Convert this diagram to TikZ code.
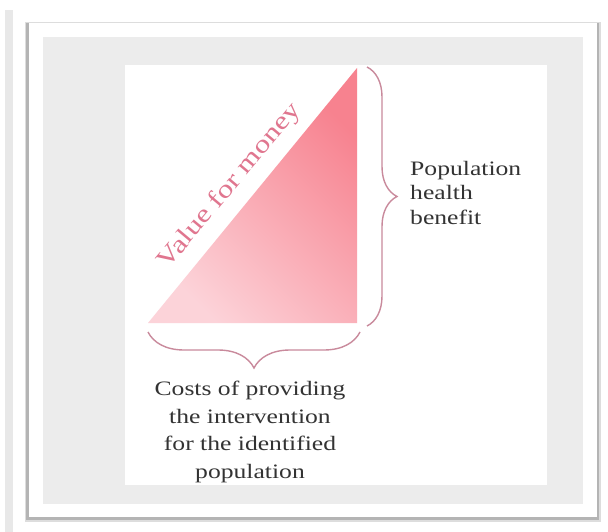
\documentclass[tikz,border=0pt]{standalone}
\usepackage{fontspec}
\setmainfont{Liberation Serif}[FakeStretch=1.25]
\usetikzlibrary{decorations.pathreplacing}
\definecolor{gline}{HTML}{E8E8E8}
\definecolor{shadowc}{HTML}{B4B4B4}
\definecolor{framec}{HTML}{DDDDDD}
\definecolor{panel}{HTML}{ECECEC}
\definecolor{pinkL}{HTML}{FCD3D9}
\definecolor{pinkD}{HTML}{F7828F}
\definecolor{pinktext}{HTML}{E0768F}
\definecolor{bracec}{HTML}{C98A9C}
\definecolor{txt}{HTML}{333333}
\tikzset{
  bracestyle/.style={draw=bracec, line width=1.4pt, decorate, decoration={brace, amplitude=#1}},
  lbl/.style={text=txt, inner sep=0pt, font=\fontsize{20.5}{24.5}\selectfont},
}
\begin{document}
\begin{tikzpicture}[x=1pt,y=-1pt]
\useasboundingbox (0,0) rectangle (608,532);
\fill[white] (0,0) rectangle (608,532);
\fill[gline] (5,10) rectangle (13,532);
% frame with shadow
\fill[shadowc!45] (25,22) rectangle (601,522);
\fill[shadowc] (26,23) rectangle (599,520);
\fill[white] (29,22) rectangle (597,517);
\draw[framec, line width=0.6pt] (29,22) -- (597,22);
\fill[panel] (43,37) rectangle (583,504);
\fill[white] (125,65) rectangle (547,485);
% triangle
\coordinate (A) at (148,323);
\coordinate (B) at (357,323);
\coordinate (C) at (357,68);
\shade[bottom color=pinkL, top color=pinkD, shading angle=-45] (A) -- (B) -- (C) -- cycle;
% braces
\coordinate (R1) at (367,67);
\coordinate (R2) at (367,326);
\draw[bracestyle=30pt] (R1) -- (R2);
\coordinate (B1) at (360,332);
\coordinate (B2) at (148,332);
\draw[bracestyle=36pt] (B1) -- (B2);
% labels
\node[lbl, anchor=north west, align=left] (benefit) at (410,161) {Population\\health\\benefit};
\node[lbl, anchor=north, align=center, font=\fontsize{20.5}{27.5}\selectfont] (costs) at (250,381)
  {Costs of providing\\the intervention\\for the identified\\population};
\node[text=pinktext, rotate=50, inner sep=0pt, font=\fontsize{25}{30}\selectfont] (value) at (230,186) {Value for money};
\end{tikzpicture}
\end{document}
